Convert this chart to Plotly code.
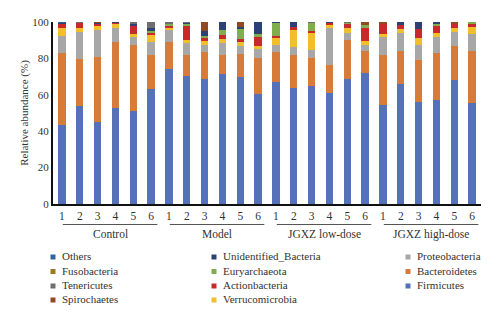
import plotly.graph_objects as go

groups = ["Control", "Model", "JGXZ low-dose", "JGXZ high-dose"]
samples = ["1", "2", "3", "4", "5", "6"]

firmicutes = [43.4, 54.0, 44.9, 52.6, 51.1, 63.2, 74.0, 70.5, 68.7, 71.4, 70.0, 60.4,
              66.9, 63.9, 64.8, 61.2, 68.7, 72.2, 54.4, 66.1, 55.9, 57.1, 68.1, 55.7]
bacteroidetes = [39.4, 25.5, 36.0, 36.4, 36.3, 18.5, 15.2, 11.4, 15.0, 10.5, 12.6, 20.0,
                 16.4, 18.0, 15.6, 15.2, 21.4, 11.8, 27.5, 17.9, 23.2, 25.7, 18.9, 28.5]
proteobacteria = [9.7, 15.2, 14.7, 7.5, 4.2, 7.1, 6.8, 6.4, 3.7, 6.4, 4.4, 4.8,
                  4.1, 4.2, 4.2, 20.1, 4.0, 3.4, 9.7, 10.1, 8.3, 9.2, 7.7, 9.2]
verrucomicrobia = [4.0, 1.8, 2.7, 2.2, 1.8, 4.6, 1.0, 1.8, 2.3, 2.2, 2.2, 1.8,
                   3.6, 9.9, 9.5, 1.8, 2.4, 2.3, 1.8, 1.9, 4.0, 2.1, 1.8, 4.0]
actinobacteria = [2.8, 3.0, 1.0, 1.1, 4.4, 1.0, 1.0, 7.7, 1.7, 2.4, 1.5, 5.0,
                  1.3, 1.0, 0.9, 1.5, 2.4, 7.2, 5.9, 2.3, 4.6, 4.2, 2.8, 1.3]
euryarchaeota = [0, 0, 0, 0, 0, 0.7, 1.0, 1.2, 1.0, 2.7, 5.5, 1.2,
                 7.5, 0, 4.8, 0, 0.6, 1.4, 0, 0, 0, 1.0, 0, 1.3]
unidentified = [0.4, 0.3, 0.4, 0.2, 1.5, 1.5, 0.4, 0.6, 2.6, 4.4, 0.8, 6.8,
                0.2, 3.0, 0, 0.2, 0, 0, 0, 1.7, 4.0, 0.7, 0, 0]
spirochaetes = [0, 0, 0.3, 0, 0, 0, 0, 0, 5.0, 0, 3.0, 0,
                0, 0, 0, 0, 0, 1.7, 0.7, 0, 0, 0, 0.7, 0]
tenericutes = [0, 0.2, 0, 0, 0.7, 3.4, 0.6, 0.4, 0, 0, 0, 0,
               0, 0, 0.2, 0, 0.5, 0, 0, 0, 0, 0, 0, 0]
fusobacteria = [0, 0, 0, 0, 0, 0, 0, 0, 0, 0, 0, 0,
                0, 0, 0, 0, 0, 0, 0, 0, 0, 0, 0, 0]
others = [0.3, 0, 0, 0, 0, 0, 0, 0, 0, 0, 0, 0,
          0, 0, 0, 0, 0, 0, 0, 0, 0, 0, 0, 0]

# stacking order, bottom to top: (legend label, values, colour)
taxa = [
    ("Firmicutes", firmicutes, "#5471B9"),
    ("Bacteroidetes", bacteroidetes, "#D77B3A"),
    ("Proteobacteria", proteobacteria, "#A7A7A7"),
    ("Verrucomicrobia", verrucomicrobia, "#F2BF2C"),
    ("Actionbacteria", actinobacteria, "#C9292B"),
    ("Euryarchaeota", euryarchaeota, "#80AE4E"),
    ("Unidentified_Bacteria", unidentified, "#2C4275"),
    ("Spirochaetes", spirochaetes, "#8F4A24"),
    ("Tenericutes", tenericutes, "#6E6E6E"),
    ("Fusobacteria", fusobacteria, "#9C7A1C"),
    ("Others", others, "#2E64A0"),
]

# legend layout (columns of names, top to bottom)
legend_cols = [
    ["Others", "Fusobacteria", "Tenericutes", "Spirochaetes"],
    ["Unidentified_Bacteria", "Euryarchaeota", "Actionbacteria", "Verrucomicrobia"],
    ["Proteobacteria", "Bacteroidetes", "Firmicutes"],
]

n = len(groups) * len(samples)
xpos = list(range(n))
ticktext = samples * len(groups)

FONT = "Liberation Serif, Times New Roman, serif"
TXT = "#333333"

fig = go.Figure()
for name, vals, col in taxa:
    fig.add_trace(go.Bar(x=xpos, y=vals, name=name, marker=dict(color=col, line=dict(width=0)),
                         width=0.41, showlegend=False))

# plot area in pixels: x 53..481, y 22..204
W, H = 500, 324
L, R, T, B = 53, 19, 22, 120
pw, ph = W - L - R, H - T - B


def py(pix):  # pixel y -> paper y
    return (H - B - pix) / ph


def px(pix):  # pixel x -> paper x
    return (pix - L) / pw


shapes = []
annotations = []
for gi, g in enumerate(groups):
    x0 = gi * len(samples) + 0.05
    x1 = gi * len(samples) + len(samples) - 1 + 0.35
    shapes.append(dict(type="line", xref="x", yref="paper", x0=x0, x1=x1,
                       y0=py(224.5), y1=py(224.5), line=dict(color="#555555", width=1)))
    annotations.append(dict(x=(x0 + x1) / 2, y=py(234), xref="x", yref="paper", text=g,
                            showarrow=False, font=dict(family=FONT, size=11.5, color=TXT),
                            xanchor="center", yanchor="middle"))

colmap = {name: col for name, _, col in taxa}
col_x = [53, 214, 408]
row_y = [257, 271.5, 286, 300]
for ci, names in enumerate(legend_cols):
    for ri, name in enumerate(names):
        cx, cy = col_x[ci], row_y[ri]
        shapes.append(dict(type="rect", xref="paper", yref="paper",
                           x0=px(cx - 2.5), x1=px(cx + 2.5), y0=py(cy + 2.5), y1=py(cy - 2.5),
                           fillcolor=colmap[name], line=dict(width=0)))
        annotations.append(dict(x=px(cx + 7), y=py(cy - 1), xref="paper", yref="paper", text=name,
                                showarrow=False, font=dict(family=FONT, size=11, color=TXT),
                                xanchor="left", yanchor="middle"))

fig.update_layout(
    barmode="stack",
    width=W, height=H,
    margin=dict(l=L, r=R, t=T, b=B, pad=0),
    paper_bgcolor="white", plot_bgcolor="white",
    font=dict(family=FONT, size=11, color=TXT),
    bargap=0.59,
    xaxis=dict(range=[-0.5, n - 0.5], tickmode="array", tickvals=xpos, ticktext=ticktext,
               showline=True, linecolor="#111111", linewidth=2, ticks="", showgrid=False,
               zeroline=False, tickfont=dict(family=FONT, size=11.5, color=TXT)),
    yaxis=dict(range=[0, 100], tickvals=[0, 20, 40, 60, 80, 100], showline=True,
               linecolor="#111111", linewidth=2, ticks="", showgrid=False, zeroline=False,
               tickfont=dict(family=FONT, size=11, color=TXT),
               title=dict(text="Relative abundance (%)", font=dict(family=FONT, size=11, color=TXT),
                          standoff=1)),
    shapes=shapes,
    annotations=annotations,
    showlegend=False,
)

fig.write_html("out.html")
